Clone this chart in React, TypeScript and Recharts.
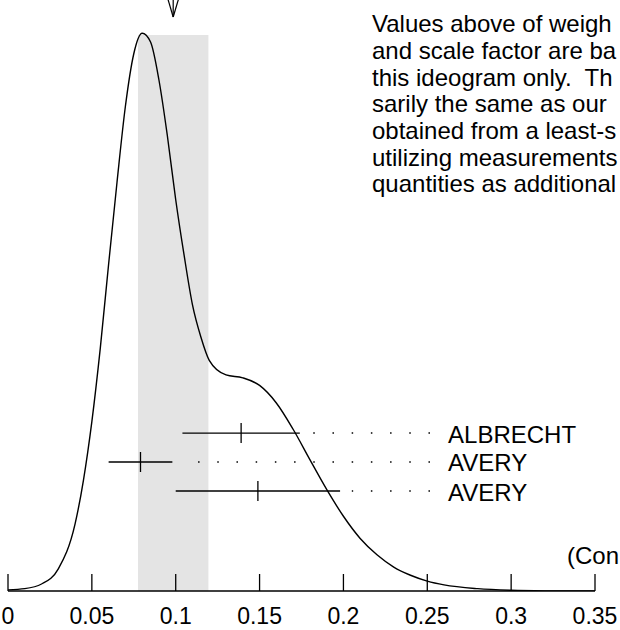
import React from 'react';
import { ComposedChart, Line, Scatter, XAxis, YAxis, ReferenceArea, ReferenceLine, ReferenceDot } from 'recharts';

// ideogram curve
const curveX = [0, 0.01, 0.02, 0.03, 0.04, 0.045, 0.05, 0.055, 0.06, 0.065, 0.07, 0.075, 0.08, 0.085, 0.09, 0.095, 0.1, 0.105, 0.11, 0.115, 0.12, 0.13, 0.14, 0.15, 0.16, 0.17, 0.18, 0.19, 0.2, 0.21, 0.22, 0.23, 0.24, 0.25, 0.26, 0.28, 0.3, 0.32, 0.35];
const curveY = [0.002, 0.004, 0.012, 0.038, 0.115, 0.19, 0.29, 0.415, 0.56, 0.7, 0.83, 0.92, 0.955, 0.94, 0.875, 0.78, 0.67, 0.575, 0.49, 0.435, 0.395, 0.37, 0.365, 0.352, 0.322, 0.277, 0.225, 0.174, 0.128, 0.09, 0.062, 0.041, 0.027, 0.017, 0.0105, 0.004, 0.0012, 0.0003, 0];

// measurements
const names = ['ALBRECHT', 'AVERY', 'AVERY'];
const values = [0.139, 0.079, 0.149];
const errors = [0.035, 0.019, 0.049];
const rowY = [0.2705, 0.2209, 0.1712];

const xTicks = [0, 0.05, 0.1, 0.15, 0.2, 0.25, 0.3, 0.35];
const xTickLabels = ['0', '0.05', '0.1', '0.15', '0.2', '0.25', '0.3', '0.35'];

const weightedAvg = 0.0985;
const weightedErr = 0.021;
const bandTop = 0.952;
const dotEnd = 0.2516;
const dotGap = 0.007;
const labelX = 0.2624;

// only the part of the note that fits in the frame
const noteLines = [
  'Values above of weigh',
  'and scale factor are ba',
  'this ideogram only.  Th',
  'sarily the same as our',
  'obtained from a least-s',
  'utilizing measurements',
  'quantities as additional',
];
const footNote = '(Con';

const FONT = '"Liberation Sans", Arial, sans-serif';

const curve = curveX.map((x, i) => ({ x, y: curveY[i] }));
const points = values.map((v, i) => ({ x: v, y: rowY[i], name: names[i] }));
const labelPoints = names.map((n, i) => ({ x: labelX, y: rowY[i], name: n }));

const AxisTick = (props: any) => {
  const { x, y, index } = props;
  return (
    <g>
      <line x1={x} x2={x} y1={y - 17} y2={y} stroke="#000" strokeWidth={1.3} />
      <text x={x} y={y + 33} textAnchor="middle" fontSize={23} fontFamily={FONT} fill="#000">
        {xTickLabels[index]}
      </text>
    </g>
  );
};

export default function App() {
  return (
    <div style={{ position: 'absolute', left: 0, top: 0, width: 620, height: 630, overflow: 'hidden', background: '#fff', fontFamily: FONT }}>
      <ComposedChart width={620} height={630} data={curve} margin={{ top: 7, right: 25, left: 8, bottom: 9 }}>
        <XAxis
          dataKey="x"
          type="number"
          domain={[0, 0.35]}
          ticks={xTicks}
          interval={0}
          height={30}
          tickSize={0}
          tickMargin={0}
          tickLine={false}
          axisLine={{ stroke: '#000', strokeWidth: 1.3 }}
          tick={<AxisTick />}
          allowDataOverflow
        />
        <YAxis dataKey="y" type="number" domain={[0, 1]} width={0} tick={false} tickLine={false} axisLine={{ stroke: '#000', strokeWidth: 1.3 }} allowDataOverflow />
        <ReferenceArea x1={weightedAvg - weightedErr} x2={weightedAvg + weightedErr} y1={0} y2={bandTop} fill="#e4e4e4" fillOpacity={1} stroke="none" />
        <ReferenceDot
          x={weightedAvg}
          y={1}
          shape={(p: any) => (
            <g stroke="#000" strokeWidth={1.2} fill="none">
              <line x1={p.cx} x2={p.cx} y1={p.cy - 10} y2={p.cy + 10} />
              <line x1={p.cx - 6.5} x2={p.cx} y1={p.cy - 12} y2={p.cy + 10} />
              <line x1={p.cx + 6.5} x2={p.cx} y1={p.cy - 12} y2={p.cy + 10} />
            </g>
          )}
        />
        {values.map((v, i) => (
          <ReferenceLine
            key={'bar' + i}
            segment={[{ x: v - errors[i], y: rowY[i] }, { x: v + errors[i], y: rowY[i] }]}
            stroke="#000"
            strokeWidth={1.3}
          />
        ))}
        {values.map((v, i) => (
          <ReferenceLine
            key={'dots' + i}
            segment={[{ x: dotEnd, y: rowY[i] }, { x: v + errors[i] + dotGap, y: rowY[i] }]}
            stroke="#000"
            strokeWidth={1.5}
            strokeDasharray="1.5 17.7"
          />
        ))}
        <Line type="monotone" dataKey="y" stroke="#000" strokeWidth={1.4} dot={false} isAnimationActive={false} />
        <Scatter
          data={points}
          isAnimationActive={false}
          shape={(p: any) => <line x1={p.cx} x2={p.cx} y1={p.cy - 10} y2={p.cy + 10} stroke="#000" strokeWidth={1.3} />}
        />
        <Scatter
          data={labelPoints}
          isAnimationActive={false}
          shape={(p: any) => (
            <text x={p.cx} y={p.cy + 9.5} fontSize={24} fontFamily={FONT} fill="#000" textAnchor="start">
              {p.payload.name}
            </text>
          )}
        />
      </ComposedChart>
      <div style={{ position: 'absolute', left: 372, top: 11.4, fontSize: 24, lineHeight: '26.67px', whiteSpace: 'pre', color: '#000' }}>
        {noteLines.map((l, i) => (
          <div key={i}>{l}</div>
        ))}
      </div>
      <div style={{ position: 'absolute', left: 567, top: 543.4, fontSize: 24, lineHeight: '26.67px', whiteSpace: 'pre', color: '#000' }}>
        {footNote}
      </div>
    </div>
  );
}
